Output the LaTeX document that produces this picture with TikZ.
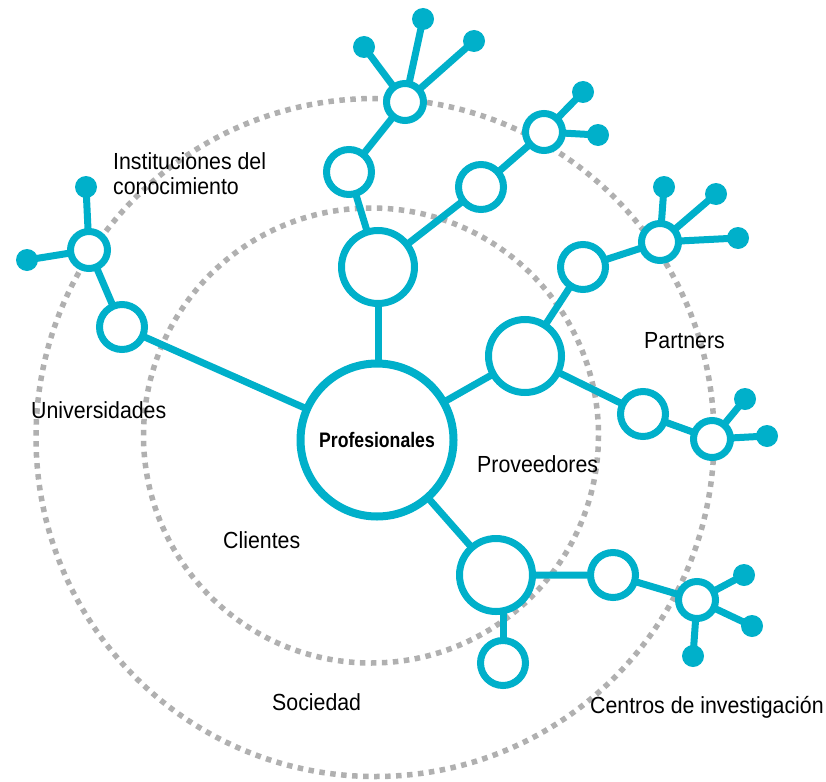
\documentclass[tikz,border=0pt]{standalone}
\usepackage{fontspec}
\setmainfont{Liberation Sans}[FakeStretch=0.915]
\newfontfamily\profont{Liberation Sans}[FakeStretch=0.84]
\usetikzlibrary{backgrounds}
\definecolor{netcyan}{RGB}{0,176,202}
\definecolor{ringgray}{RGB}{176,176,176}
\begin{document}
\begin{tikzpicture}[x=1pt,y=-1pt,
  ring/.style={draw=ringgray,line width=5.5pt,dash pattern=on 5.5pt off 5.5pt},
  hubnode/.style={circle,draw=netcyan,line width=7pt,fill=white,inner sep=0pt},
  center/.style={hubnode,minimum size=153pt,line width=8pt},
  bignode/.style={hubnode,minimum size=73pt},
  midnode/.style={hubnode,minimum size=45pt},
  smallnode/.style={hubnode,minimum size=37pt},
  leaf/.style={circle,fill=netcyan,inner sep=0pt,minimum size=22pt},
  link/.style={draw=netcyan,line width=7pt},
  lbl/.style={anchor=base west,inner sep=0pt,font=\fontsize{23.3}{26}\selectfont}
]
\useasboundingbox (0,0) rectangle (826,781);

\node[center] (p) at (377,440) {\profont\bfseries\fontsize{21}{24}\selectfont Profesionales};
\node[bignode] (b1) at (378,267) {};
\node[bignode] (b2) at (525,356) {};
\node[bignode] (b3) at (496,575) {};
\node[midnode] (m1) at (349,172) {};
\node[midnode] (m2) at (481,187) {};
\node[midnode] (m3) at (583,267) {};
\node[midnode] (m4) at (643,414) {};
\node[midnode] (m5) at (613,575) {};
\node[midnode] (m6) at (503,663) {};
\node[midnode] (m7) at (122,327) {};
\node[smallnode] (h1) at (405,102) {};
\node[smallnode] (h2) at (544,132) {};
\node[smallnode] (h3) at (660,242) {};
\node[smallnode] (h4) at (712,439) {};
\node[smallnode] (h5) at (697,600) {};
\node[smallnode] (h6) at (89,250) {};
\node[leaf] (l1a) at (364,47) {};
\node[leaf] (l1b) at (423,19) {};
\node[leaf] (l1c) at (474,41) {};
\node[leaf] (l2a) at (583,92) {};
\node[leaf] (l2b) at (598,135) {};
\node[leaf] (l3a) at (664,187) {};
\node[leaf] (l3b) at (716,194) {};
\node[leaf] (l3c) at (738,238) {};
\node[leaf] (l4a) at (745,399) {};
\node[leaf] (l4b) at (767,436) {};
\node[leaf] (l5a) at (744,575) {};
\node[leaf] (l5b) at (752,626) {};
\node[leaf] (l5c) at (693,656) {};
\node[leaf] (l6a) at (86,187) {};
\node[leaf] (l6b) at (27,260) {};

\begin{scope}[on background layer]
\fill[white] (0,0) rectangle (826,781);
\coordinate (cin) at (371,435.5);
\coordinate (cout) at (375,437.5);
\draw[ring] (cin) circle[radius=227.5];
\draw[ring] (cout) circle[radius=339];
\draw[link] (b1.center) -- (b1.center |- p.center);
\draw[link] (p.center) -- (b2.center);
\draw[link] (p.center) -- (b3.center);
\draw[link] (p.center) -- (m7.center);
\draw[link] (b1.center) -- (m1.center) -- (h1.center);
\draw[link] (h1.center) -- (l1a.center);
\draw[link] (h1.center) -- (l1b.center);
\draw[link] (h1.center) -- (l1c.center);
\draw[link] (b1.center) -- (m2.center) -- (h2.center);
\draw[link] (h2.center) -- (l2a.center);
\draw[link] (h2.center) -- (l2b.center);
\draw[link] (b2.center) -- (m3.center) -- (h3.center);
\draw[link] (h3.center) -- (l3a.center);
\draw[link] (h3.center) -- (l3b.center);
\draw[link] (h3.center) -- (l3c.center);
\draw[link] (b2.center) -- (m4.center) -- (h4.center);
\draw[link] (h4.center) -- (l4a.center);
\draw[link] (h4.center) -- (l4b.center);
\draw[link] (b3.center) -- (m5.center) -- (h5.center);
\draw[link] (h5.center) -- (l5a.center);
\draw[link] (h5.center) -- (l5b.center);
\draw[link] (h5.center) -- (l5c.center);
\draw[link] (m6.center) -- (m6.center |- b3.center);
\draw[link] (m7.center) -- (h6.center);
\draw[link] (h6.center) -- (l6a.center);
\draw[link] (h6.center) -- (l6b.center);
\end{scope}

\node[lbl] (inst1) at (113,169) {Instituciones del};
\node[lbl] (inst2) at (113,194) {conocimiento};
\node[lbl] (univ) at (31,418) {Universidades};
\node[lbl] (part) at (644,348) {Partners};
\node[lbl] (prov) at (477,472) {Proveedores};
\node[lbl] (clie) at (223,548) {Clientes};
\node[lbl] (soci) at (272,710) {Sociedad};
\node[lbl] (cent) at (590,713) {Centros de investigación};
\end{tikzpicture}
\end{document}
